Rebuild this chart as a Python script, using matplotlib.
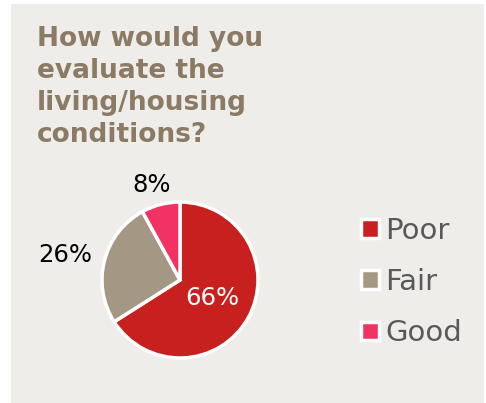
import matplotlib

matplotlib.use("Agg")
import matplotlib.pyplot as plt
from matplotlib.patches import Rectangle
import numpy as np

# survey answers, share of respondents (%)
categories = ["Poor", "Fair", "Good"]
shares = [66, 26, 8]
colors = ["#c8201e", "#a49783", "#f23262"]
title = "How would you\nevaluate the\nliving/housing\nconditions?"

W, H = 486, 403
fig = plt.figure(figsize=(W / 100, H / 100), dpi=100, facecolor="white")

# light panel behind everything
fig.patches.append(Rectangle((11 / W, 0), 473 / W, 399 / H, transform=fig.transFigure,
                             facecolor="#efedea", edgecolor="none", zorder=-1))

fig.text(37 / W, 1 - 26 / H, title, ha="left", va="top", fontsize=19,
         fontweight="bold", color="#8b7a64", linespacing=1.3)

r_px = 78
cx, cy = 180, 280
ax = fig.add_axes([(cx - r_px) / W, (H - cy - r_px) / H, 2 * r_px / W, 2 * r_px / H])

wedges, _, autotexts = ax.pie(
    shares, colors=colors, startangle=90, counterclock=False, radius=1,
    autopct=lambda p: f"{p:.0f}%",
    wedgeprops=dict(edgecolor="white", linewidth=2.5),
    textprops=dict(fontsize=17.5),
)
ax.set_xlim(-1, 1)
ax.set_ylim(-1, 1)
ax.axis("off")

# first label sits inside its wedge, the small ones go outside
dists = [0.48, 1.5, 1.27]
for w, t, d in zip(wedges, autotexts, dists):
    ang = np.deg2rad((w.theta1 + w.theta2) / 2 + (2 if d > 1.2 else 0))
    t.set_position((d * np.cos(ang), d * np.sin(ang)))
    t.set_color("black")
autotexts[0].set_color("white")

fig.legend(wedges, categories, loc="center left",
           bbox_to_anchor=(361 / W, 1 - 282 / H), bbox_transform=fig.transFigure,
           frameon=False, fontsize=21, labelcolor="#595959",
           handlelength=0.6, handleheight=0.6, handletextpad=0.22,
           labelspacing=0.8, borderpad=0, borderaxespad=0)

fig.savefig("out.png", dpi=100, facecolor=fig.get_facecolor())
